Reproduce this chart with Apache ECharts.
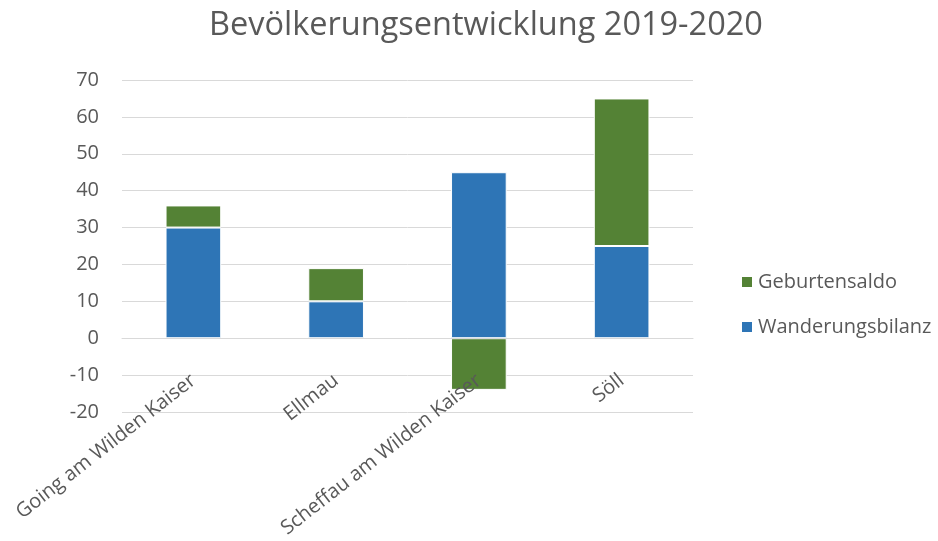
<!DOCTYPE html>
<html>
<head>
<meta charset="utf-8">
<script src="https://cdn.jsdelivr.net/npm/echarts@6/dist/echarts.min.js"></script>
<style>html,body{margin:0;padding:0;background:#fff}#c{width:938px;height:541px}</style>
</head>
<body>
<div id="c"></div>
<script>
const categories = ["Going am Wilden Kaiser", "Ellmau", "Scheffau am Wilden Kaiser", "Söll"];
const wanderungsbilanz = [30, 10, 45, 25];
const geburtensaldo = [6, 9, -14, 40];
const yTicks = {min: -20, max: 70, interval: 10};
const titleText = "Bevölkerungsentwicklung 2019-2020";

const chart = echarts.init(document.getElementById('c'), null, {renderer: 'canvas'});
const txt = '#595959';
const font = 'Open Sans';
const gridTop = 80, gridBottom = 129;
const gridH = 541 - gridTop - gridBottom;
const zeroOffset = gridH * (0 - yTicks.min) / (yTicks.max - yTicks.min);
chart.setOption({
  animation: false,
  title: {
    text: titleText, left: 204, top: 4,
    textStyle: {color: txt, fontSize: 32.5, fontWeight: 'normal', fontFamily: font}
  },
  legend: {
    orient: 'vertical', left: 735, top: 267,
    itemWidth: 12, itemHeight: 12, itemGap: 25,
    icon: 'rect',
    textStyle: {color: txt, fontSize: 20, fontFamily: font},
    data: ['Geburtensaldo', 'Wanderungsbilanz']
  },
  grid: {left: 122, right: 245, top: gridTop, bottom: gridBottom, containLabel: false, outerBoundsMode: 'none'},
  xAxis: {
    type: 'category', data: categories,
    offset: -zeroOffset, z: 10,
    axisLine: {onZero: false, lineStyle: {color: '#d9d9d9'}},
    axisTick: {show: false},
    axisLabel: {rotate: 38, color: txt, fontSize: 20, fontFamily: font, margin: 40, interval: 0}
  },
  yAxis: {
    type: 'value', min: yTicks.min, max: yTicks.max, interval: yTicks.interval,
    axisLine: {show: false}, axisTick: {show: false},
    splitLine: {lineStyle: {color: '#d9d9d9', width: 1}},
    axisLabel: {color: txt, fontSize: 20, fontFamily: font, margin: 23}
  },
  series: [
    {name: 'Wanderungsbilanz', type: 'bar', stack: 's', data: wanderungsbilanz, barWidth: '39%',
     itemStyle: {color: '#2e75b6', borderColor: '#ffffff', borderWidth: 1}},
    {name: 'Geburtensaldo', type: 'bar', stack: 's', data: geburtensaldo, barWidth: '39%',
     itemStyle: {color: '#548235', borderColor: '#ffffff', borderWidth: 1}}
  ]
});
</script>
</body>
</html>
